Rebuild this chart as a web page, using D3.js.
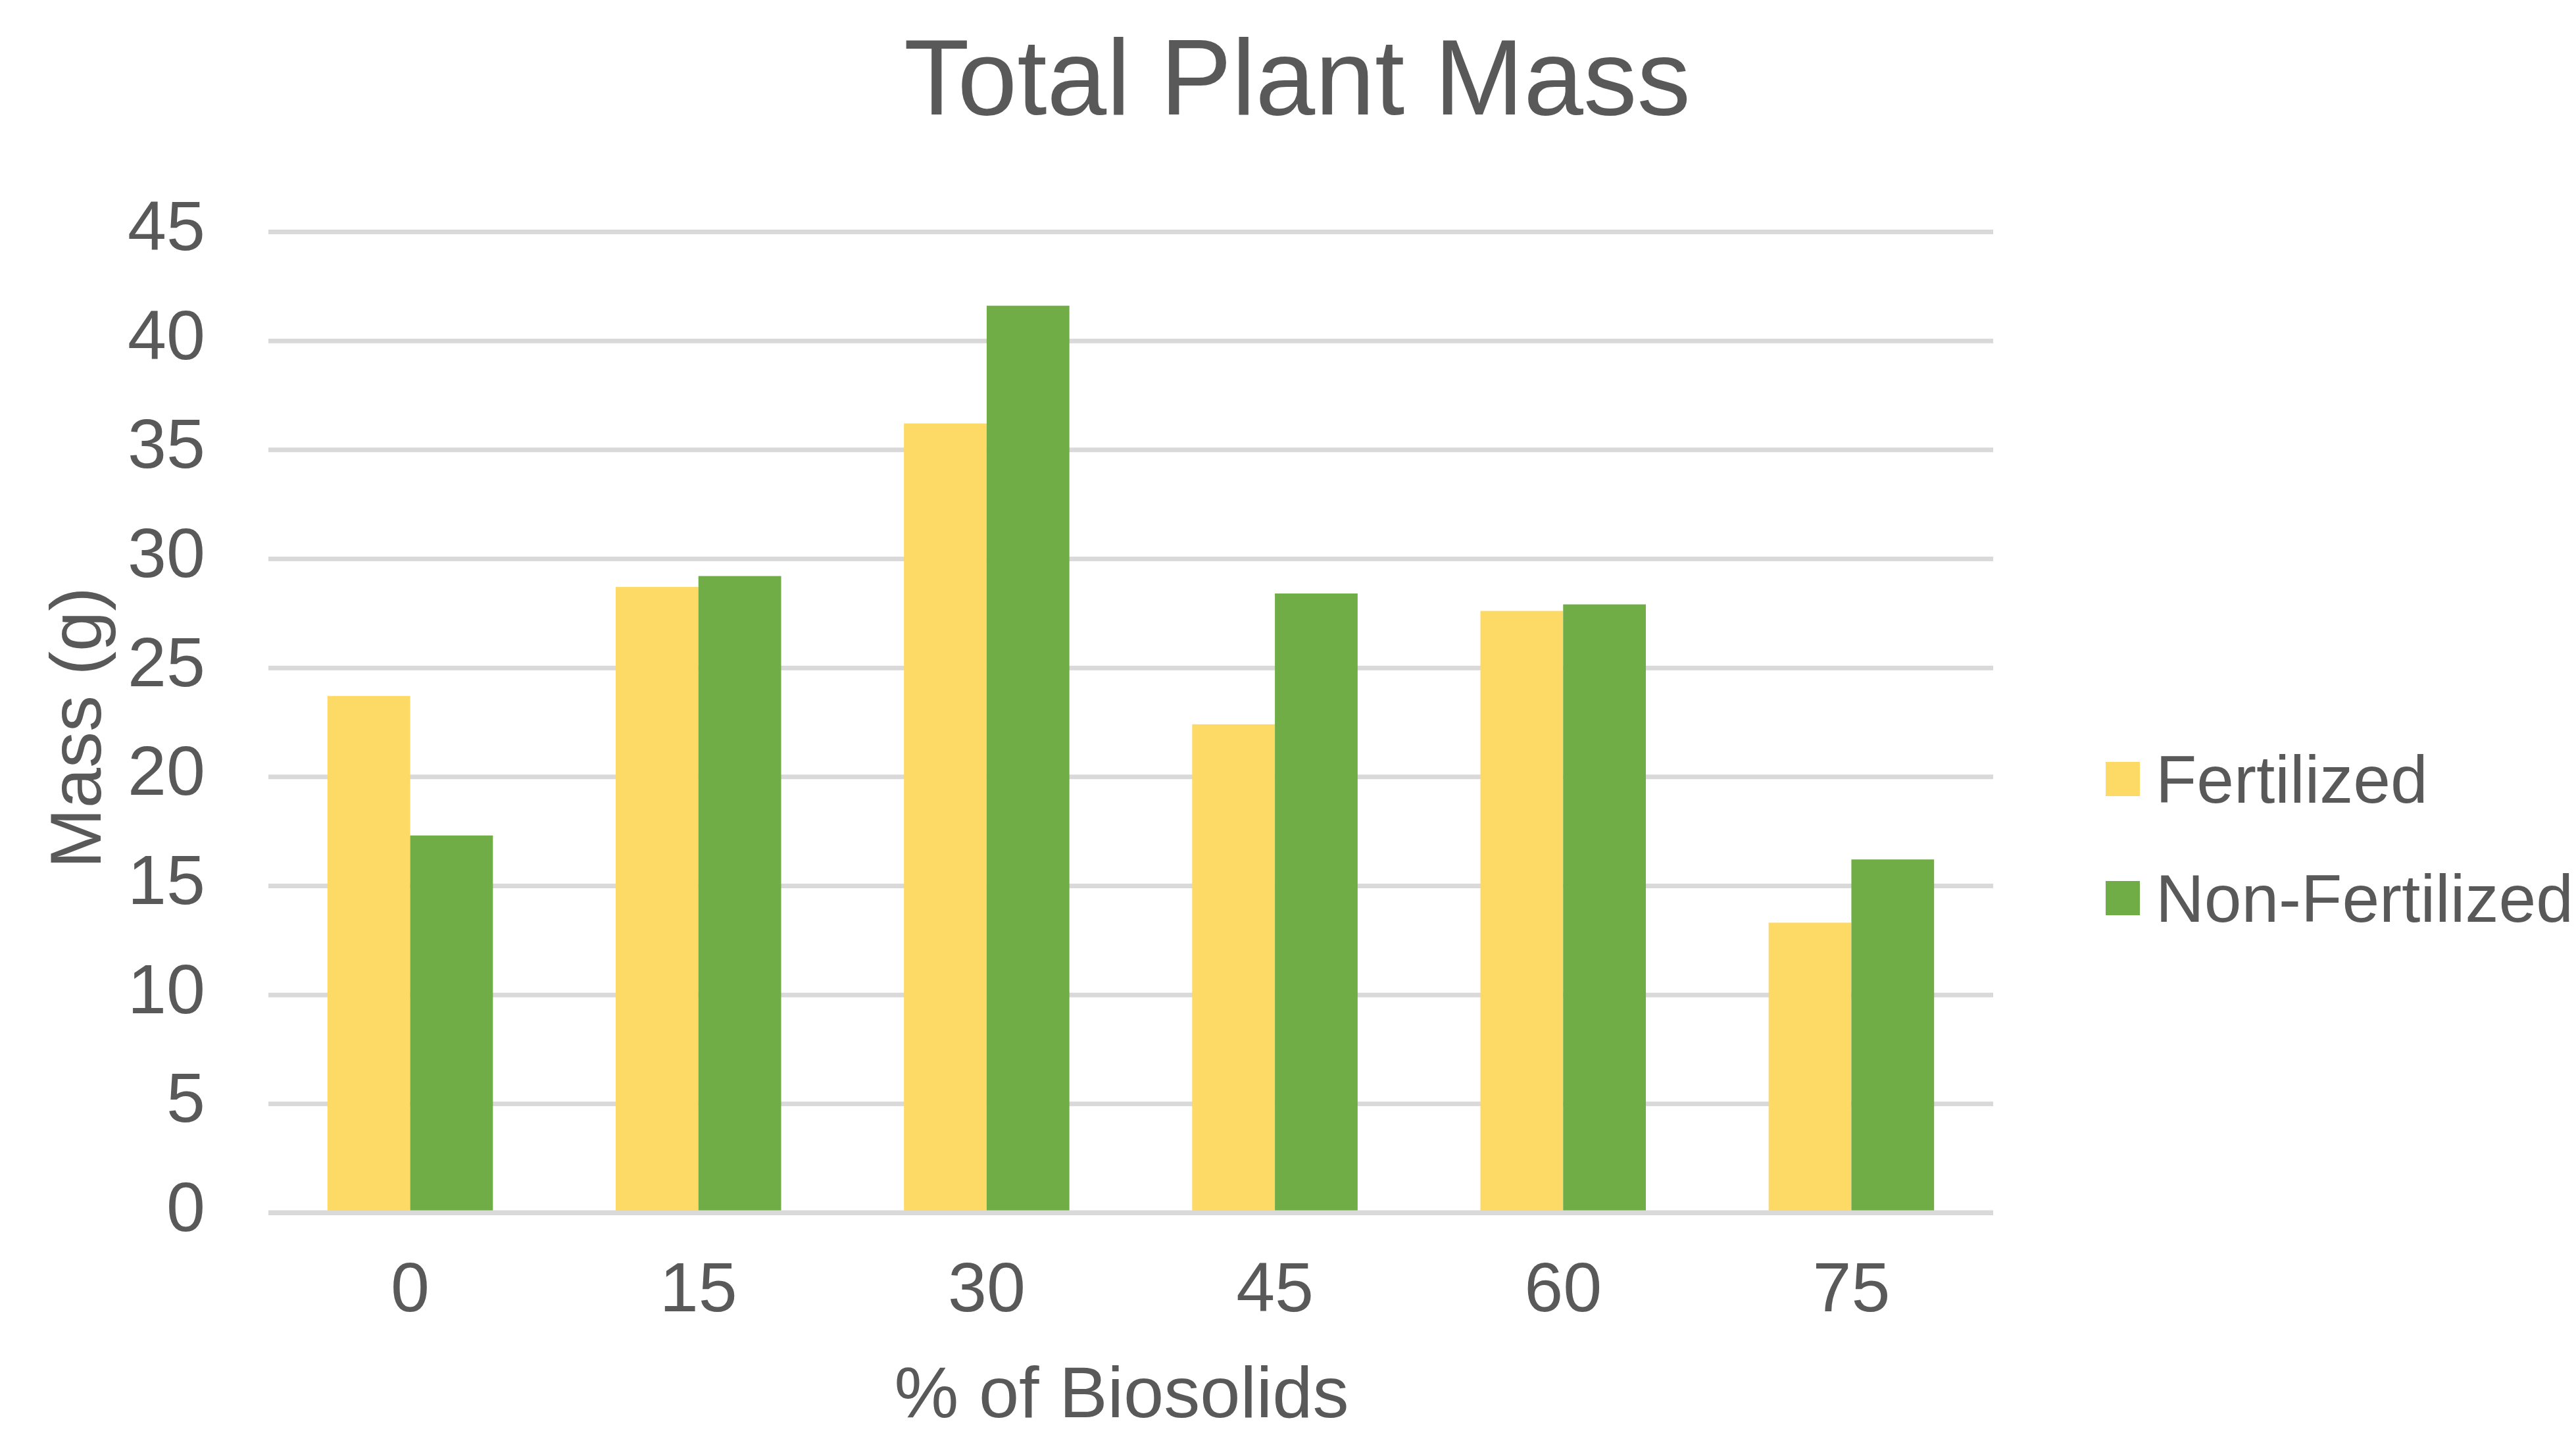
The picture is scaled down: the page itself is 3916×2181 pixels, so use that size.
<!DOCTYPE html>
<html>
<head>
<meta charset="utf-8">
<script src="https://cdn.jsdelivr.net/npm/d3@7"></script>
<style>
  body { margin: 0; background: #fff; }
  text { font-family: "Liberation Sans", Arial, sans-serif; fill: #595959; }
</style>
</head>
<body>
<div class="bar-chart-container"></div>
<script>
// data
const categories = ['0', '15', '30', '45', '60', '75'];
const series_names = ['Fertilized', 'Non-Fertilized'];
const fertilized = [23.7, 28.7, 36.2, 22.4, 27.6, 13.3];
const non_fertilized = [17.3, 29.2, 41.6, 28.4, 27.9, 16.2];
const y_ticks = [0, 5, 10, 15, 20, 25, 30, 35, 40, 45];
const colors = ['#FDD966', '#70AD47'];

const chart_data = categories.map((c, i) => ({
    category: c,
    values: [fertilized[i], non_fertilized[i]]
}));

function setup_canvas(data){
    const svg_width = 3916;
    const svg_height = 2181;
    const plot = {left: 408, right: 3030, top: 352, bottom: 1843};

    const svg = d3.select('.bar-chart-container')
                  .append('svg')
                  .attr('width', svg_width)
                  .attr('height', svg_height);

    // scales
    const x_scale = d3.scaleBand()
                      .domain(categories)
                      .range([plot.left, plot.right])
                      .paddingInner(0.426)
                      .paddingOuter(0.205);
    const x_inner = d3.scaleBand()
                      .domain(series_names)
                      .range([0, x_scale.bandwidth()]);
    const y_scale = d3.scaleLinear().domain([0, 45]).range([plot.bottom, plot.top]);

    // grid lines + y labels
    const y_axis = d3.axisLeft(y_scale)
                     .tickValues(y_ticks)
                     .tickSize(-(plot.right - plot.left))
                     .tickPadding(96);
    const y_axis_draw = svg.append('g')
                           .attr('class', 'y axis')
                           .attr('transform', `translate(${plot.left},0)`)
                           .call(y_axis);
    y_axis_draw.select('.domain').remove();
    y_axis_draw.selectAll('line').attr('stroke', '#d9d9d9').attr('stroke-width', 7);
    y_axis_draw.selectAll('text')
               .attr('font-size', 106)
               .attr('dy', '0.26em')
               .style('fill', '#595959');

    // bars
    const groups = svg.selectAll('.group')
                      .data(data)
                      .enter()
                      .append('g')
                      .attr('class', 'group')
                      .attr('transform', d => `translate(${x_scale(d.category)},0)`);
    groups.selectAll('rect')
          .data(d => d.values.map((v, i) => ({name: series_names[i], value: v, i: i})))
          .enter()
          .append('rect')
          .attr('x', d => x_inner(d.name))
          .attr('y', d => y_scale(d.value))
          .attr('width', x_inner.bandwidth())
          .attr('height', d => y_scale(0) - y_scale(d.value))
          .style('fill', d => colors[d.i]);

    // baseline over bars
    svg.append('line')
       .attr('x1', plot.left).attr('x2', plot.right)
       .attr('y1', y_scale(0)).attr('y2', y_scale(0))
       .attr('stroke', '#d9d9d9').attr('stroke-width', 7);

    // x labels
    const x_axis = d3.axisBottom(x_scale).tickSize(0).tickPadding(0);
    const x_axis_draw = svg.append('g')
                           .attr('class', 'x axis')
                           .attr('transform', `translate(0,${plot.bottom})`)
                           .call(x_axis);
    x_axis_draw.select('.domain').remove();
    x_axis_draw.selectAll('text')
               .attr('font-size', 106)
               .attr('y', 150)
               .attr('dy', 0)
               .style('fill', '#595959');

    // title
    svg.append('text')
       .attr('x', 1972)
       .attr('y', 174)
       .attr('text-anchor', 'middle')
       .attr('font-size', 163)
       .text('Total Plant Mass');

    // axis titles
    svg.append('text')
       .attr('x', 1705)
       .attr('y', 2154)
       .attr('text-anchor', 'middle')
       .attr('font-size', 110)
       .text('% of Biosolids');
    svg.append('text')
       .attr('transform', 'translate(153,1106) rotate(-90)')
       .attr('text-anchor', 'middle')
       .attr('font-size', 110)
       .text('Mass (g)');

    // legend
    const legend = svg.append('g').attr('class', 'legend');
    const legend_items = legend.selectAll('g')
                               .data(series_names)
                               .enter()
                               .append('g')
                               .attr('transform', (d, i) => `translate(3201,${1184 + i * 181})`);
    legend_items.append('rect')
                .attr('x', 0).attr('y', -26)
                .attr('width', 52).attr('height', 52)
                .style('fill', (d, i) => colors[i]);
    legend_items.append('text')
                .attr('x', 76)
                .attr('y', 36)
                .attr('font-size', 102)
                .text(d => d);
}

setup_canvas(chart_data);
</script>
</body>
</html>
